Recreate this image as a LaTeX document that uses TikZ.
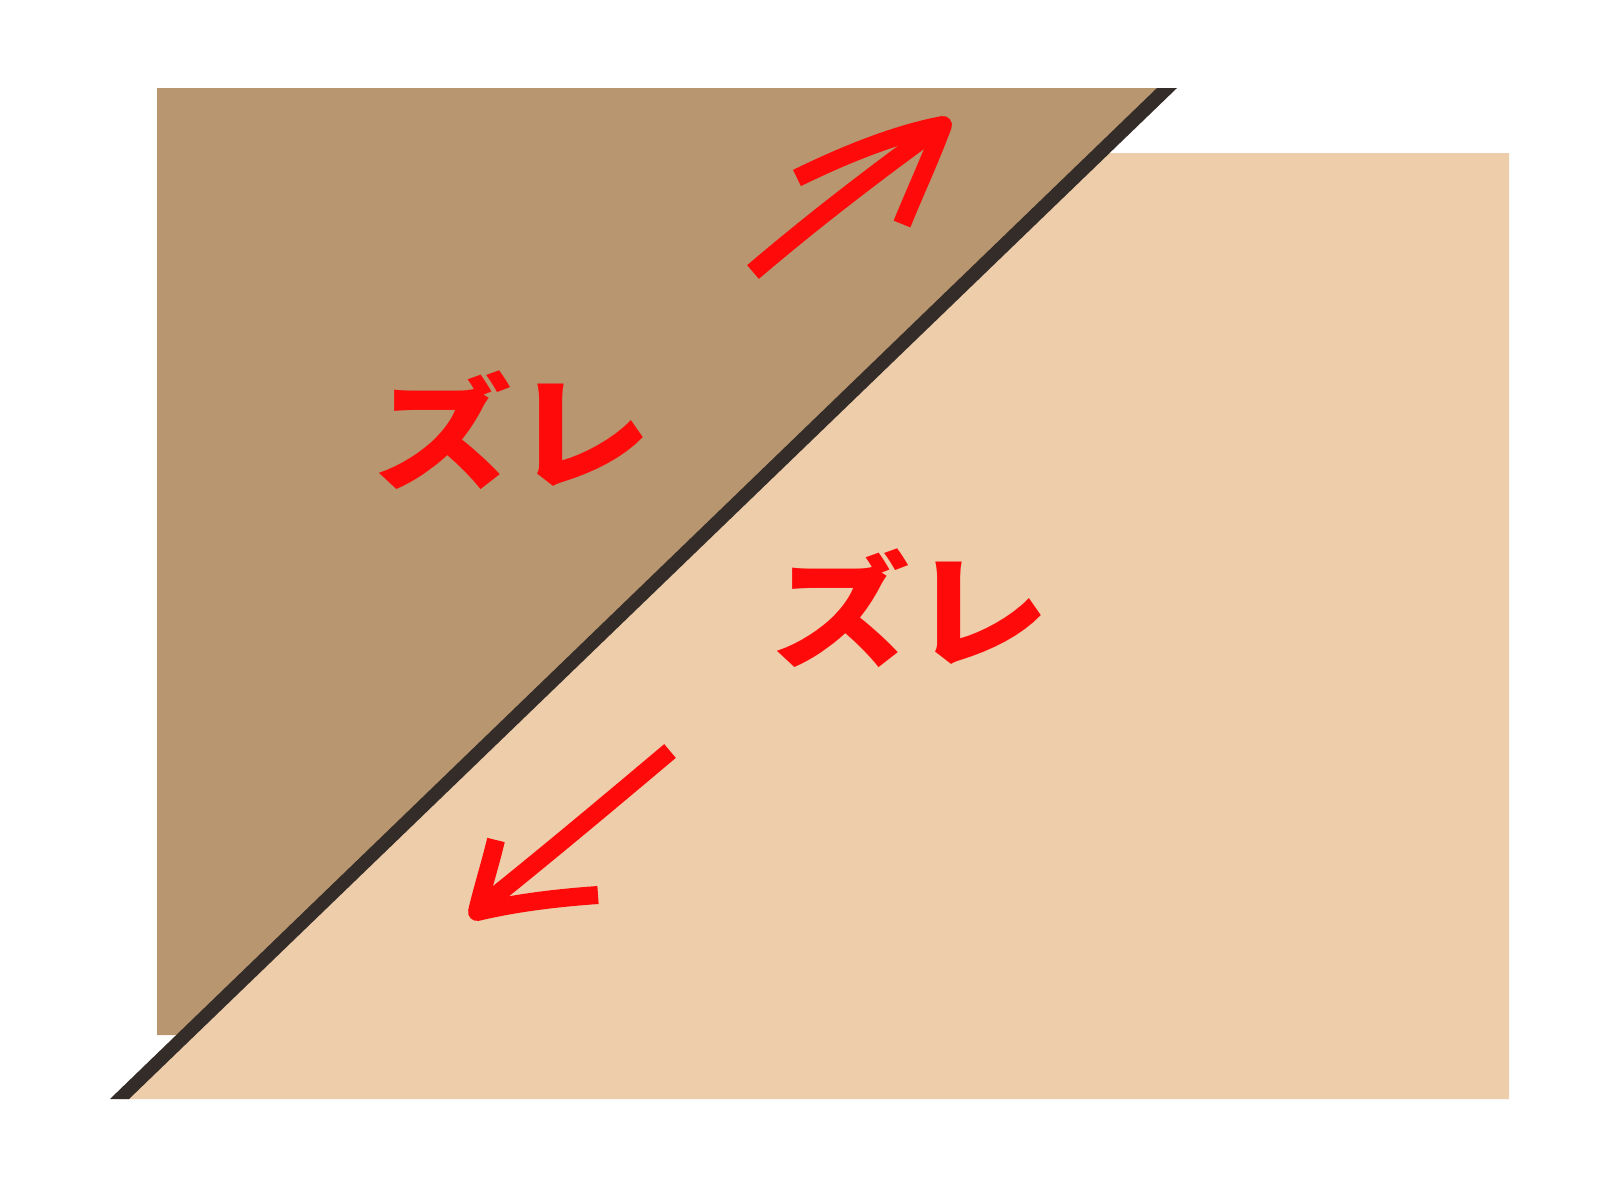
\documentclass[tikz,border=0pt]{standalone}
\usepackage{fontspec}
\newfontfamily\jpfont{Noto Sans CJK JP}
\definecolor{upper}{HTML}{B8966F}
\definecolor{lower}{HTML}{EDCDAA}
\definecolor{fault}{HTML}{332C29}
\definecolor{redink}{HTML}{FF0A0A}
\begin{document}
\begin{tikzpicture}[x=1pt,y=-1pt,
  redstroke/.style={draw=redink,line width=18pt,line cap=butt,line join=round},
  zure/.style={text=redink,inner sep=0pt,font=\jpfont\bfseries\fontsize{124}{124}\selectfont,xscale=1.12}]
\useasboundingbox[fill=white] (0,0) rectangle (1600,1200);
% upper (hanging) block
\fill[upper] (157,88) -- (1168,88) -- (180,1035) -- (157,1035) -- cycle;
% lower (foot) block
\fill[lower] (1105,153) -- (1509,153) -- (1509,1099) -- (118,1099) -- cycle;
% fault line
\fill[fault] (1157,88) -- (1177,88) -- (129,1099) -- (110,1099) -- cycle;
% arrows
\draw[redstroke] (753,272) .. controls (820,215) and (880,170) .. (936,129);
\draw[redstroke] (797,178) .. controls (850,152) and (900,133) .. (943,125) .. controls (930,160) and (915,192) .. (902,224);
\draw[redstroke] (670,751) .. controls (600,810) and (540,860) .. (485,904);
\draw[redstroke] (496,840) .. controls (490,865) and (482,890) .. (477,912) .. controls (515,903) and (555,898) .. (598,895);
% labels
\node[zure] (z1) at (512,430) {ズレ};
\node[zure] (z2) at (910,608) {ズレ};
\end{tikzpicture}
\end{document}
